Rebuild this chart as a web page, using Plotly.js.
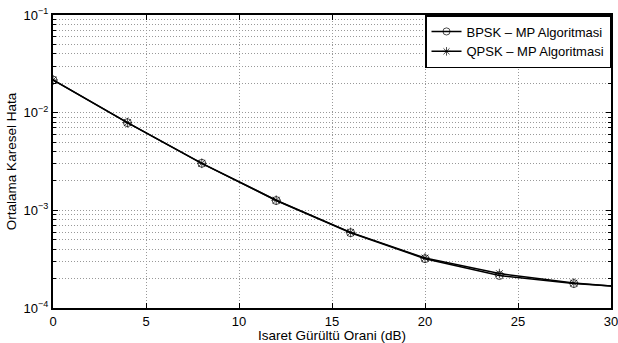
<!DOCTYPE html>
<html>
<head>
<meta charset="utf-8">
<script src="https://cdn.plot.ly/plotly-3.0.1.min.js"></script>
<style>html,body{margin:0;padding:0;background:#fff;}#chart{width:618px;height:343px;}</style>
</head>
<body>
<div id="chart"></div>
<script>
const snr = [0, 4, 8, 12, 16, 20, 24, 28, 30];
const bpskMse = [0.0216, 0.0079, 0.00303, 0.00126, 0.00059, 0.00032, 0.000215, 0.000178, 0.000168];
const qpskMse = [0.0216, 0.0079, 0.00303, 0.00127, 0.000595, 0.000325, 0.000225, 0.000180, 0.000168];
const markerSizes = [8, 8, 8, 8, 8, 8, 8, 8, 0];
const yTickVals = [1e-4, 1e-3, 1e-2, 1e-1];
const yTickText = ['10<sup>−4</sup>', '10<sup>−3</sup>', '10<sup>−2</sup>', '10<sup>−1</sup>'];
const xTickVals = [0, 5, 10, 15, 20, 25, 30];

const traces = [
  {x: snr, y: bpskMse, name: 'BPSK – MP Algoritmasi', mode: 'lines+markers',
   line: {color: '#000', width: 1.5},
   marker: {symbol: 'circle-open-dot', size: markerSizes, color: '#000', line: {width: 1, color: '#000'}}},
  {x: snr, y: qpskMse, name: 'QPSK – MP Algoritmasi', mode: 'lines+markers',
   line: {color: '#000', width: 1.5},
   marker: {symbol: 'asterisk-open', size: markerSizes, color: '#000', line: {width: 1, color: '#000'}}}
];

const layout = {
  width: 618, height: 343,
  margin: {l: 53, r: 7, t: 15, b: 35},
  paper_bgcolor: '#fff', plot_bgcolor: '#fff',
  font: {family: 'Liberation Sans, Arial, sans-serif', size: 13, color: '#000'},
  showlegend: true,
  legend: {x: 1, y: 1, xanchor: 'right', yanchor: 'top', bgcolor: '#fff',
           bordercolor: '#000', borderwidth: 1.5, font: {size: 13}, tracegroupgap: 0,
           itemwidth: 30},
  xaxis: {
    range: [0, 30], tickvals: xTickVals, ticks: 'inside', ticklen: 5, tickcolor: '#000',
    showline: true, linecolor: '#000', linewidth: 2, mirror: 'ticks',
    showgrid: true, gridcolor: '#999', griddash: '1px,2px', gridwidth: 1, zeroline: false,
    tickfont: {size: 13}, ticklabeloverflow: 'allow',
    title: {text: 'Isaret Gürültü Orani (dB)', font: {size: 13.5}, standoff: 0}
  },
  yaxis: {
    type: 'log', range: [-4, -1], tickvals: yTickVals, ticktext: yTickText,
    ticks: 'inside', ticklen: 5, tickcolor: '#000',
    showline: true, linecolor: '#000', linewidth: 2, mirror: 'ticks',
    showgrid: true, gridcolor: '#999', griddash: '1px,2px', gridwidth: 1, zeroline: false,
    tickfont: {size: 13},
    minor: {dtick: 'D1', showgrid: true, gridcolor: '#999', griddash: '1px,2px', gridwidth: 1,
            ticks: 'inside', ticklen: 3, tickcolor: '#000'},
    title: {text: 'Ortalama Karesel Hata', font: {size: 13.5}, standoff: 4}
  }
};

Plotly.newPlot('chart', traces, layout, {displayModeBar: false, staticPlot: true});
</script>
</body>
</html>
